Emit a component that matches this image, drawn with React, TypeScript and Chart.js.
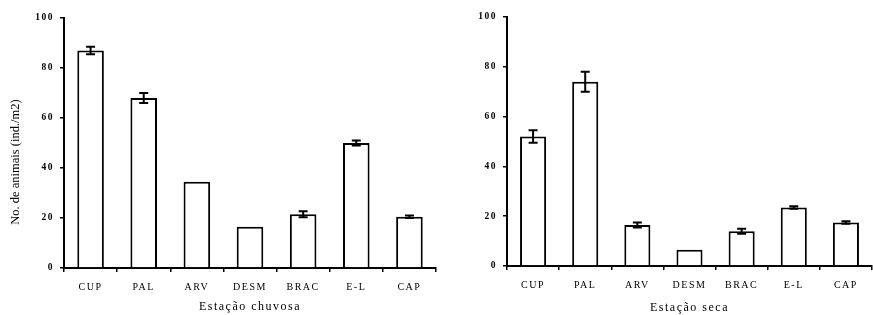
import React, { useEffect, useRef } from "react";
import { Chart, registerables } from "chart.js";

Chart.register(...registerables);

const categories = ["CUP", "PAL", "ARV", "DESM", "BRAC", "E-L", "CAP"];
const rainyValues = [87, 68, 34.5, 16.5, 21.5, 50, 20.5];
const rainyErrors = [1.5, 2, 0, 0, 1.2, 1, 0.5];
const dryValues = [52, 74, 16.5, 6.5, 14, 23.5, 17.5];
const dryErrors = [2.5, 4, 1, 0, 1, 0.5, 0.5];
const yTicks = [0, 20, 40, 60, 80, 100];

const FONT = "'Liberation Serif', 'DejaVu Serif', serif";

const errorBarPlugin = {
  id: "errorBars",
  beforeDraw(chart: any) {
    chart.ctx.letterSpacing = "1.5px";
  },
  afterDatasetsDraw(chart: any, _args: any, opts: any) {
    const errs: number[] = opts.errors || [];
    const ctx = chart.ctx;
    const yScale = chart.scales.y;
    const meta = chart.getDatasetMeta(0);
    const vals = chart.data.datasets[0].data as number[];
    ctx.save();
    ctx.strokeStyle = "#000";
    ctx.lineWidth = 2;
    meta.data.forEach((bar: any, i: number) => {
      const e = errs[i];
      if (!e) return;
      const x = bar.x;
      const yTop = yScale.getPixelForValue(vals[i] + e);
      const yBot = yScale.getPixelForValue(vals[i] - e);
      ctx.beginPath();
      ctx.moveTo(x, yTop);
      ctx.lineTo(x, yBot);
      ctx.moveTo(x - 4.5, yTop);
      ctx.lineTo(x + 4.5, yTop);
      ctx.moveTo(x - 4.5, yBot);
      ctx.lineTo(x + 4.5, yBot);
      ctx.stroke();
    });
    ctx.restore();
  },
};

function makeConfig(
  values: number[],
  errors: number[],
  xTitle: string,
  yTitle: string | null,
  yWidth: number,
  rightPad: number,
  topPad: number,
  xHeight: number,
  xTitleBottom: number
): any {
  return {
    type: "bar",
    data: {
      labels: categories,
      datasets: [
        {
          data: values,
          backgroundColor: "#fff",
          borderColor: "#000",
          borderWidth: 2,
          categoryPercentage: 1,
          barPercentage: 0.5,
        },
      ],
    },
    plugins: [errorBarPlugin],
    options: {
      responsive: false,
      animation: false,
      layout: { padding: { left: 0, right: rightPad, top: topPad, bottom: 0 } },
      plugins: {
        legend: { display: false },
        tooltip: { enabled: false },
        errorBars: { errors },
      },
      scales: {
        x: {
          grid: {
            drawOnChartArea: false,
            drawTicks: true,
            tickLength: 4,
            color: "#000",
            lineWidth: 1.5,
            offset: true,
          },
          border: { display: true, color: "#000", width: 2 },
          ticks: {
            color: "#000",
            font: { family: FONT, size: 10 },
            padding: 9,
            maxRotation: 0,
            autoSkip: false,
          },
          title: {
            display: true,
            text: xTitle,
            color: "#000",
            font: { family: FONT, size: 12 },
            padding: { top: 2, bottom: xTitleBottom },
          },
          afterFit(scale: any) {
            scale.height = xHeight;
          },
        },
        y: {
          min: 0,
          max: 100,
          afterBuildTicks(scale: any) {
            scale.ticks = yTicks.map((v) => ({ value: v }));
          },
          grid: {
            drawOnChartArea: false,
            drawTicks: true,
            tickLength: 4,
            color: "#000",
            lineWidth: 1.5,
          },
          border: { display: true, color: "#000", width: 2 },
          ticks: {
            color: "#000",
            font: { family: FONT, size: 9.5, weight: "bold" },
            padding: 6,
          },
          title: {
            display: !!yTitle,
            text: yTitle || "",
            color: "#000",
            font: { family: FONT, size: 12.5 },
            padding: { top: 8, bottom: 4 },
          },
          afterFit(scale: any) {
            scale.width = yWidth;
            if (!scale.__patched) {
              const orig = scale.drawTitle;
              scale.drawTitle = function (...args: any[]) {
                const ctx = this.ctx;
                const prev = ctx.letterSpacing;
                ctx.save();
                ctx.letterSpacing = "0px";
                ctx.translate(0, 19);
                orig.apply(this, args);
                ctx.restore();
                ctx.letterSpacing = prev;
              };
              scale.__patched = true;
            }
          },
        },
      },
    },
  };
}

function BarPanel(props: {
  left: number;
  width: number;
  values: number[];
  errors: number[];
  xTitle: string;
  yTitle: string | null;
  yWidth: number;
  rightPad: number;
  topPad: number;
  xHeight: number;
  xTitleBottom: number;
}) {
  const ref = useRef<HTMLCanvasElement | null>(null);
  useEffect(() => {
    if (!ref.current) return;
    const chart = new Chart(
      ref.current,
      makeConfig(
        props.values,
        props.errors,
        props.xTitle,
        props.yTitle,
        props.yWidth,
        props.rightPad,
        props.topPad,
        props.xHeight,
        props.xTitleBottom
      )
    );
    return () => chart.destroy();
  }, []);
  return (
    <canvas
      ref={ref}
      width={props.width}
      height={315}
      style={{ position: "absolute", left: props.left, top: 0, width: props.width, height: 315 }}
    />
  );
}

export default function App() {
  return (
    <div
      style={{
        position: "absolute",
        left: 0,
        top: 0,
        width: 873,
        height: 315,
        background: "#fff",
        overflow: "hidden",
      }}
    >
      <BarPanel
        left={0}
        width={440}
        values={rainyValues}
        errors={rainyErrors}
        xTitle="Estação chuvosa"
        yTitle="No. de animais (ind./m2)"
        yWidth={64}
        rightPad={4}
        topPad={18}
        xHeight={47}
        xTitleBottom={1}
      />
      <BarPanel
        left={440}
        width={433}
        values={dryValues}
        errors={dryErrors}
        xTitle="Estação seca"
        yTitle={null}
        yWidth={67}
        rightPad={1}
        topPad={17}
        xHeight={49}
        xTitleBottom={0}
      />
    </div>
  );
}
